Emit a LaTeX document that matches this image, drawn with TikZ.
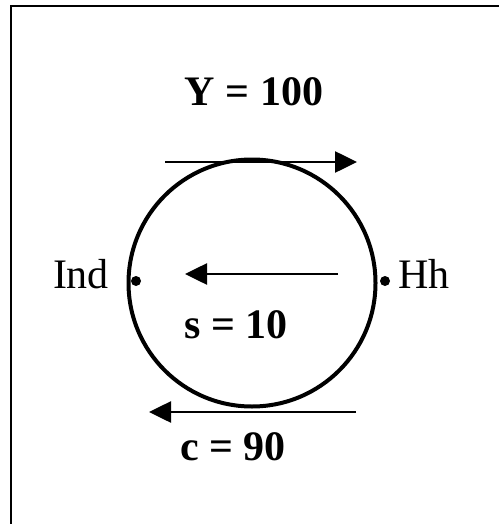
\documentclass[tikz,border=0pt]{standalone}
\usepackage{fontspec}
\setmainfont{Liberation Serif}
\usetikzlibrary{arrows.meta, positioning}

\begin{document}
\begin{tikzpicture}[
  x=1pt, y=-1pt,
  >={Triangle[length=22pt, width=21pt]},
  every node/.style={text=black, font=\fontsize{42}{50}\selectfont, inner sep=0pt},
  ring/.style={circle, draw=black, line width=4pt, minimum size=247pt},
  flow/.style={black, line width=2.6pt, ->},
  point/.style={circle, fill=black, minimum size=10pt},
  amount/.style={anchor=base, font=\fontsize{42}{50}\selectfont\bfseries},
  sector/.style={anchor=base},
]

% Page and frame
\useasboundingbox (0,0) rectangle (499,524);
\draw[black, line width=2pt] (11,524) -- (11,6) -- (499,6);

% Circular flow
\node[ring] (ring) at (252,283) {};

% Sectors
\node[point] (ind) at (136,281) {};
\node[point] (hh) at (385,281) {};
\node[sector] (indlabel) at (81,288) {Ind};
\node[sector] (hhlabel) at (424,288) {Hh};

% Income (top)
\coordinate (ytail) at (165,162);
\coordinate (yhead) at (357,162);
\draw[flow] (ytail) -- (yhead);
\node[amount] (income) at (254,106) {Y = 100};

% Saving (middle)
\coordinate (stail) at (338,274);
\coordinate (shead) at (185,274);
\draw[flow] (stail) -- (shead);
\node[amount] (saving) at (236,338) {s = 10};

% Consumption (bottom)
\coordinate (ctail) at (356,412);
\coordinate (chead) at (149,412);
\draw[flow] (ctail) -- (chead);
\node[amount] (consumption) at (233,460) {c = 90};

\end{tikzpicture}
\end{document}
